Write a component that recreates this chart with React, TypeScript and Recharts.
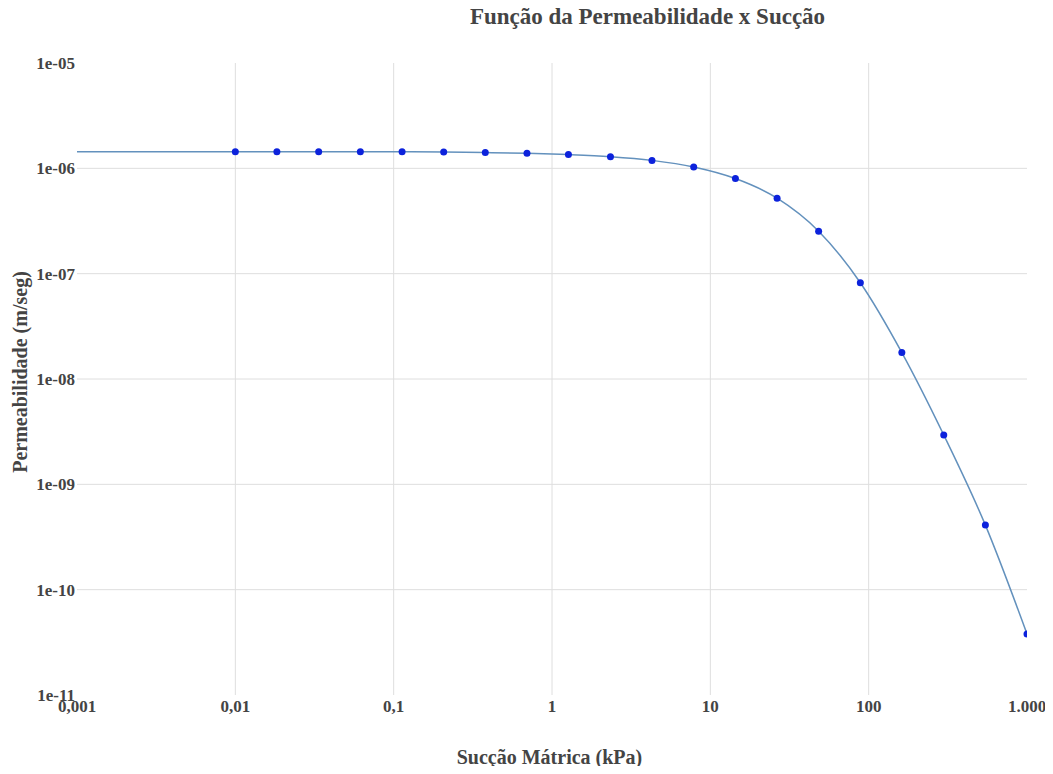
import React from "react";
import { ComposedChart, XAxis, YAxis, Line, Scatter, ReferenceLine } from "recharts";

// pontos medidos (kPa, m/s)
const suction = [0.01, 0.0183, 0.0336, 0.0616, 0.113, 0.207, 0.379, 0.695, 1.27, 2.34, 4.28, 7.85, 14.4, 26.4, 48.3, 88.6, 162, 298, 546, 1000];
const permeability = [1.44e-6, 1.44e-6, 1.44e-6, 1.44e-6, 1.44e-6, 1.43e-6, 1.41e-6, 1.39e-6, 1.35e-6, 1.29e-6, 1.19e-6, 1.03e-6, 8.0e-7, 5.21e-7, 2.53e-7, 8.2e-8, 1.78e-8, 2.94e-9, 4.1e-10, 3.8e-11];

// curva ajustada (começa em 0,001)
const curveSuction = [0.001, 0.0032, ...suction];
const curvePerm = [1.44e-6, 1.44e-6, ...permeability];

const xTicks = [0.001, 0.01, 0.1, 1, 10, 100, 1000];
const xTickLabels = ["0,001", "0,01", "0,1", "1", "10", "100", "1.000"];
const yTicks = [1e-11, 1e-10, 1e-9, 1e-8, 1e-7, 1e-6, 1e-5];
const yTickLabels = ["1e-11", "1e-10", "1e-09", "1e-08", "1e-07", "1e-06", "1e-05"];

const title = "Função da Permeabilidade x Sucção";
const xTitle = "Sucção Mátrica (kPa)";
const yTitle = "Permeabilidade (m/seg)";

const FONT = '"Liberation Serif", "Times New Roman", serif';
const TXT = "#444";
const GRID = "#dedede";

const pts = suction.map((s, i) => ({ x: s, y: permeability[i] }));
const curve = curveSuction.map((s, i) => ({ x: s, y: curvePerm[i] }));

const tickStyle = { fontFamily: FONT, fontWeight: 700, fontSize: 17, fill: TXT };

export default function App() {
  return (
    <div style={{ position: "relative", width: 1037, height: 758, fontFamily: FONT }}>
      <ComposedChart width={1037} height={758} margin={{ top: 55, right: 18, bottom: 0, left: 0 }}>
        <XAxis
          dataKey="x" type="number" scale="log" domain={[0.001, 1000]} allowDataOverflow
          ticks={xTicks} interval={0} height={71}
          tickFormatter={(v: number) => xTickLabels[xTicks.indexOf(v)] ?? String(v)}
          tick={tickStyle} tickLine={false} axisLine={false} tickSize={0} tickMargin={5}
        />
        <YAxis
          dataKey="y" type="number" scale="log" domain={[1e-11, 1e-5]} allowDataOverflow
          ticks={yTicks} interval={0} width={69}
          tickFormatter={(v: number) => yTickLabels[yTicks.indexOf(v)] ?? String(v)}
          tick={tickStyle} tickLine={false} axisLine={false} tickSize={0} tickMargin={2}
        />
        {xTicks.slice(1, -1).map(t => (
          <ReferenceLine key={"vx" + t} x={t} stroke={GRID} strokeWidth={1} />
        ))}
        {yTicks.slice(1, -1).map(t => (
          <ReferenceLine key={"hy" + t} y={t} stroke={GRID} strokeWidth={1} />
        ))}
        <Line data={curve} dataKey="y" type="monotone" stroke="#6391bd" strokeWidth={1.5}
          dot={false} activeDot={false} isAnimationActive={false} />
        <Scatter data={pts} dataKey="y" fill="#0c22dc" isAnimationActive={false}
          shape={(p: any) => <circle cx={p.cx} cy={p.cy} r={3.5} fill="#0c22dc" />} />
      </ComposedChart>
      <svg width={1037} height={758} style={{ position: "absolute", left: 0, top: 0, overflow: "visible", pointerEvents: "none" }}>
        <text x={639.5} y={16} textAnchor="middle" fontFamily={FONT} fontWeight={700} fontSize={23} fill={TXT}>{title}</text>
        <text x={541.5} y={756} textAnchor="middle" fontFamily={FONT} fontWeight={700} fontSize={20} fill={TXT}>{xTitle}</text>
        <text x={19} y={364} textAnchor="middle" transform="rotate(-90 19 364)" fontFamily={FONT} fontWeight={700} fontSize={20} fill={TXT}>{yTitle}</text>
      </svg>
    </div>
  );
}
